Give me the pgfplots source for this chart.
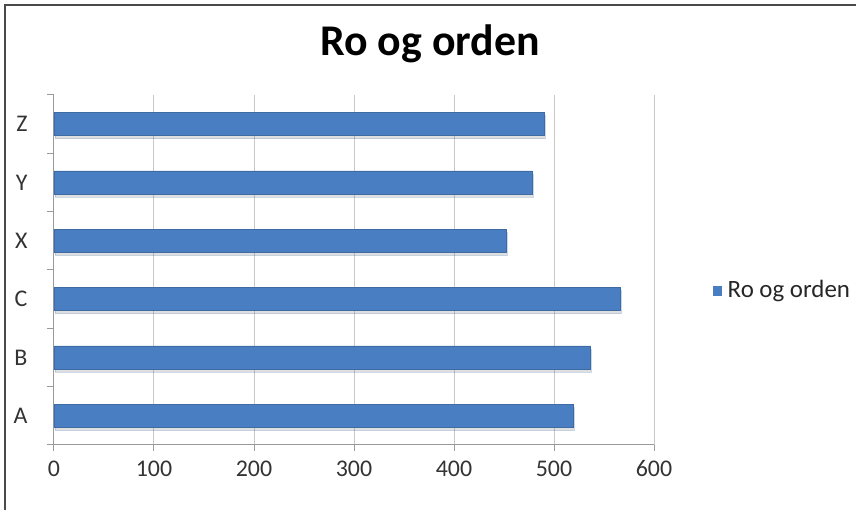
\documentclass[border=0pt]{standalone}
\usepackage{pgfplots}
\pgfplotsset{compat=1.18}
\usepackage{fontspec}
\setmainfont{Carlito}
\usetikzlibrary{shadows}

\definecolor{barmid}{HTML}{4A7EC2}
\definecolor{gridgray}{HTML}{C8C8C8}
\definecolor{axisgray}{HTML}{9A9A9A}
\definecolor{framegray}{HTML}{4A4A4A}

\begin{document}
\begin{tikzpicture}[x=1bp,y=1bp]
  % page area and the frame on the left and top edges
  \useasboundingbox (-54,-65) rectangle (802,445);
  \draw[framegray, line width=2bp] (-49,-65) -- (-49,440) -- (802,440);

  \begin{axis}[
    scale only axis,
    width=600bp, height=350bp,
    xmin=0, xmax=600,
    ymin=-0.5, ymax=5.5,
    xtick={0,100,...,600},
    ytick={0,...,5},
    yticklabels={A,B,C,X,Y,Z},
    minor ytick={-0.5,0.5,...,5.5},
    axis lines*=left,
    axis line style={axisgray, line width=1bp},
    xmajorgrids,
    major grid style={gridgray, line width=1bp},
    tick align=outside,
    xtick pos=bottom, ytick pos=left,
    major x tick style={axisgray, line width=1bp},
    major tick length=6bp,
    major y tick style={draw=none},
    minor y tick style={axisgray, line width=1bp},
    minor tick length=7bp,
    ticklabel style={font=\fontsize{24}{26}\selectfont, text=black!80},
    /pgf/number format/assume math mode=true,
    xticklabel style={yshift=-6bp},
    yticklabel style={xshift=-17bp},
    xbar,
    bar width=23bp,
    clip=false,
  ]
    \addplot[draw=barmid!85!black, line width=0.6bp, fill=barmid,
             drop shadow={shadow xshift=1bp, shadow yshift=-3bp, opacity=0.25}]
      coordinates {(519,0) (536,1) (566,2) (452,3) (478,4) (490,5)};

    % title and legend entry
    \node[font=\fontsize{44}{48}\selectfont\bfseries] at (rel axis cs:0.627,1.146) {Ro og orden};
    \fill[barmid] (rel axis cs:1.098,0.425) rectangle (rel axis cs:1.114,0.454);
    \node[anchor=west, font=\fontsize{25}{28}\selectfont, text=black!85]
      at (rel axis cs:1.117,0.44) {Ro og orden};
  \end{axis}
\end{tikzpicture}
\end{document}
